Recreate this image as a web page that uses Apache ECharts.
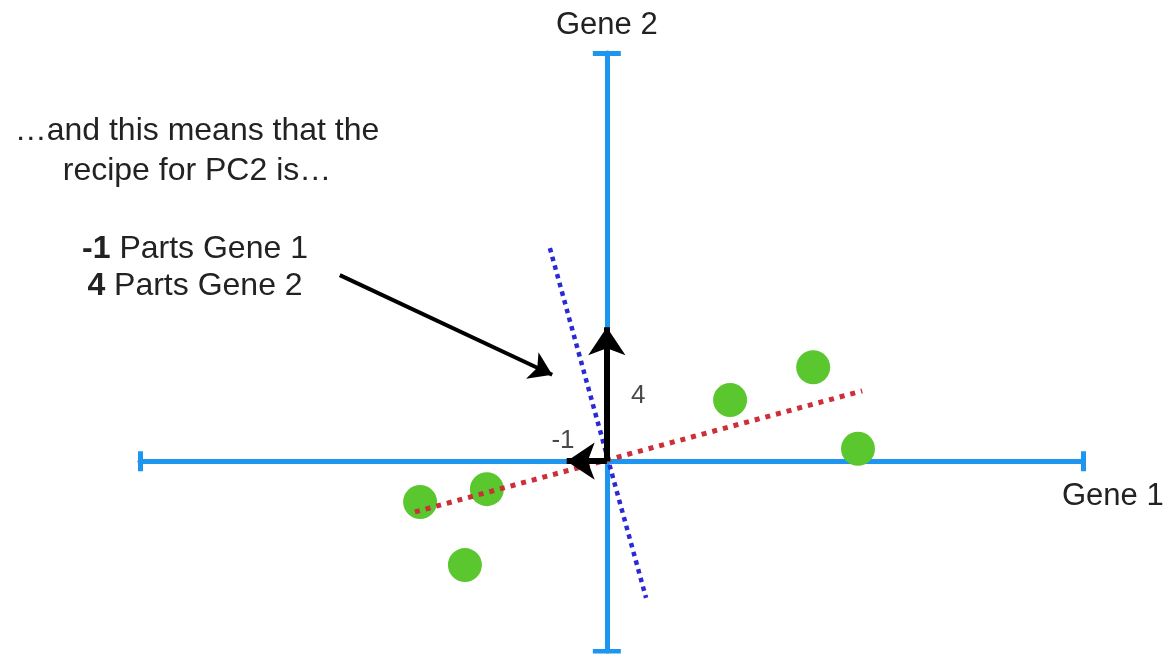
<!DOCTYPE html>
<html>
<head>
<meta charset="utf-8">
<title>PC2 recipe</title>
<script src="https://cdn.jsdelivr.net/npm/echarts/dist/echarts.min.js"></script>
<style>
  html, body { margin: 0; padding: 0; background: #fff; }
  #chart { width: 1170px; height: 655px; }
</style>
</head>
<body>
<div id="chart"></div>
<script>
// 数据 (axis units)
const xRange = [-10, 10.2];
const yRange = [-4, 8.6];
const geneX = [-4.0, -2.57, -3.04, 2.64, 4.42, 5.38];
const geneY = [-0.86, -0.59, -2.19, 1.29, 1.98, 0.26];
const pc1Line = [[-4.11, -1.07], [5.47, 1.48]];
const pc2Line = [[-1.22, 4.49], [0.84, -2.88]];
// arrow tips of the PC2 recipe: -1 along gene 1, 4 along gene 2
const recipeArrows = [[-0.86, 0], [0, 2.82]];
const recipeLabels = ['-1', '4'];
const recipeLabelPos = [[-0.94, 0.43], [0.67, 1.37]];
const pointerArrow = [[-5.72, 3.92], [-1.17, 1.82]];

const axisBlue = '#1e96f0';
const textColor = '#222';
const font = '"Liberation Sans", Arial, sans-serif';

const chart = echarts.init(document.getElementById('chart'));

// 轴两端的短横线
const capX = 0.21, capY = 0.3;
const caps = [
  [[xRange[0], -capX], [xRange[0], capX]],
  [[xRange[1], -capX], [xRange[1], capX]],
  [[-capY, yRange[0]], [capY, yRange[0]]],
  [[-capY, yRange[1]], [capY, yRange[1]]]
];

const arrowSize = [30, 28];

const option = {
  animation: false,
  grid: { left: 140, right: 87, top: 53, bottom: 4, outerBoundsMode: 'none' },
  xAxis: {
    type: 'value', min: xRange[0], max: xRange[1],
    name: 'Gene 1', nameLocation: 'end', nameGap: -21,
    nameTextStyle: { fontFamily: font, fontSize: 31, color: textColor, align: 'left', verticalAlign: 'top', lineHeight: 70 },
    axisLine: { show: true, onZero: true, lineStyle: { color: axisBlue, width: 5 } },
    axisTick: { show: false }, axisLabel: { show: false }, splitLine: { show: false }
  },
  yAxis: {
    type: 'value', min: yRange[0], max: yRange[1],
    name: 'Gene 2', nameLocation: 'end', nameGap: 12,
    nameTextStyle: { fontFamily: font, fontSize: 31, color: textColor, align: 'center' },
    axisLine: { show: true, onZero: true, lineStyle: { color: axisBlue, width: 5 } },
    axisTick: { show: false }, axisLabel: { show: false }, splitLine: { show: false }
  },
  series: [
    {
      type: 'lines', coordinateSystem: 'cartesian2d', z: 1, silent: true,
      data: caps.map(c => ({ coords: c })),
      lineStyle: { color: axisBlue, width: 5, opacity: 1 },
      symbol: 'none'
    },
    {
      type: 'scatter', z: 2,
      data: geneX.map((x, i) => [x, geneY[i]]),
      symbolSize: 34,
      itemStyle: { color: '#5ac72f', opacity: 1 }
    },
    {
      type: 'line', z: 3, clip: false,
      data: pc1Line, showSymbol: false, symbol: 'none',
      lineStyle: { color: '#cc2f38', width: 5, type: [5, 6], cap: 'butt' }
    },
    {
      type: 'line', z: 3, clip: false,
      data: pc2Line, showSymbol: false, symbol: 'none',
      lineStyle: { color: '#2a2ad4', width: 4.5, type: [4.5, 4.5], cap: 'butt' }
    },
    {
      type: 'lines', coordinateSystem: 'cartesian2d', z: 4, silent: true,
      data: recipeArrows.map(p => ({ coords: [[0, 0], p] })),
      symbol: ['none', 'arrow'], symbolSize: arrowSize, symbolOffset: [0, [0, arrowSize[1] / 2]],
      lineStyle: { color: '#000', width: 6, opacity: 1 }
    },
    {
      type: 'lines', coordinateSystem: 'cartesian2d', z: 4, silent: true,
      data: [{ coords: pointerArrow }],
      symbol: ['none', 'arrow'], symbolSize: [22, 22], symbolOffset: [0, [0, 11]],
      lineStyle: { color: '#000', width: 4, opacity: 1 }
    },
    {
      type: 'scatter', z: 5, symbolSize: 1, silent: true,
      itemStyle: { color: 'rgba(0,0,0,0)' },
      data: recipeLabelPos.map((p, i) => ({ value: p, name: recipeLabels[i] })),
      label: {
        show: true, position: 'inside', formatter: '{b}',
        fontFamily: font, fontSize: 26, color: '#1a1a1a'
      }
    }
  ],
  graphic: [
    {
      type: 'text', x: 197, y: 111,
      style: {
        text: '…and this means that the\nrecipe for PC2 is…',
        font: '32px ' + font, fill: textColor,
        align: 'center', verticalAlign: 'top', lineHeight: 40
      }
    },
    {
      type: 'text', x: 195, y: 231,
      style: {
        text: '{b|-1} Parts Gene 1\n{b|4} Parts Gene 2',
        font: '32px ' + font, fill: textColor,
        align: 'center', verticalAlign: 'top', lineHeight: 37,
        rich: { b: { fontWeight: 'bold', fontSize: 32, fontFamily: font, lineHeight: 37, fill: textColor } }
      }
    }
  ]
};

chart.setOption(option);
</script>
</body>
</html>
